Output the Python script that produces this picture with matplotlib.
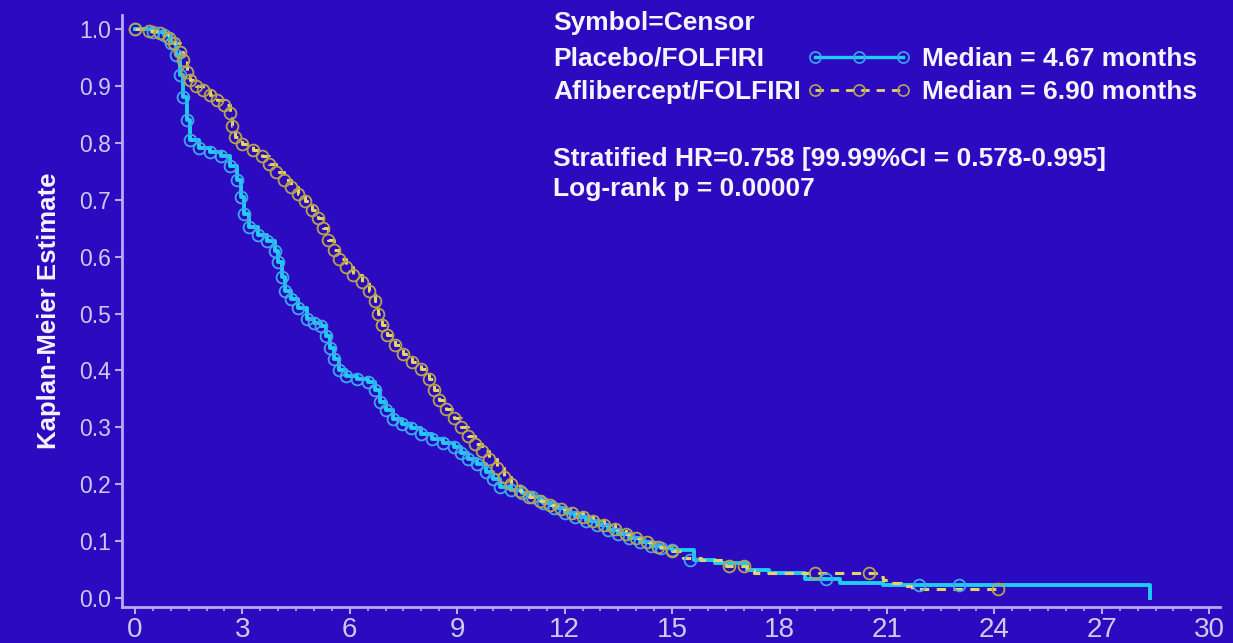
"""Kaplan-Meier curves: Placebo/FOLFIRI vs Aflibercept/FOLFIRI."""
import matplotlib

matplotlib.use("Agg")
import matplotlib.pyplot as plt
import numpy as np
from matplotlib.lines import Line2D
from matplotlib.ticker import MultipleLocator

# --- data (months, survival estimate) ---
placebo_t = [0.0, 0.5, 0.8, 1.0, 1.15, 1.25, 1.35, 1.45, 1.55, 1.8, 2.1, 2.4, 2.65,
             2.85, 2.95, 3.05, 3.2, 3.45, 3.7, 3.9, 4.0, 4.1, 4.2, 4.35, 4.55, 4.8,
             5.0, 5.2, 5.35, 5.45, 5.55, 5.7, 5.9, 6.2, 6.5, 6.7, 6.85, 7.0, 7.2,
             7.45, 7.7, 8.0, 8.3, 8.6, 8.9, 9.1, 9.3, 9.55, 9.8, 10.0, 10.2, 10.5,
             10.8, 11.1, 11.4, 11.7, 12.0, 12.3, 12.6, 12.9, 13.2, 13.5, 13.8, 14.1,
             14.4, 14.7, 15.0, 15.6, 16.2, 17.1, 17.7, 18.7, 19.7, 20.9, 28.35]
placebo_s = [1.0, 0.995, 0.99, 0.975, 0.955, 0.92, 0.88, 0.84, 0.805, 0.79, 0.783,
             0.776, 0.76, 0.735, 0.705, 0.675, 0.652, 0.638, 0.628, 0.61, 0.59,
             0.565, 0.54, 0.525, 0.51, 0.49, 0.484, 0.478, 0.46, 0.44, 0.42, 0.40,
             0.39, 0.385, 0.38, 0.365, 0.345, 0.33, 0.315, 0.305, 0.298, 0.288,
             0.28, 0.272, 0.265, 0.255, 0.245, 0.235, 0.222, 0.21, 0.195, 0.19,
             0.185, 0.177, 0.167, 0.158, 0.15, 0.143, 0.135, 0.128, 0.12, 0.113,
             0.105, 0.098, 0.092, 0.088, 0.085, 0.067, 0.062, 0.05, 0.044, 0.033,
             0.027, 0.023, 0.0]

aflib_t = [0.0, 0.4, 0.7, 0.95, 1.1, 1.25, 1.35, 1.45, 1.55, 1.7, 1.9, 2.1, 2.3, 2.5,
           2.65, 2.72, 2.8, 3.0, 3.3, 3.55, 3.75, 3.95, 4.15, 4.35, 4.55, 4.75, 4.95,
           5.1, 5.25, 5.4, 5.55, 5.7, 5.9, 6.1, 6.35, 6.55, 6.7, 6.8, 6.9, 7.05, 7.25,
           7.5, 7.75, 8.0, 8.2, 8.35, 8.5, 8.7, 8.9, 9.1, 9.3, 9.5, 9.7, 9.9, 10.1,
           10.3, 10.5, 10.75, 11.0, 11.3, 11.6, 11.9, 12.2, 12.5, 12.8, 13.1, 13.4,
           13.7, 14.0, 14.3, 14.6, 15.0, 15.3, 15.8, 16.5, 17.1, 17.3, 20.7, 20.9,
           21.1, 21.4, 21.7, 24.1]
aflib_s = [1.0, 0.997, 0.993, 0.985, 0.975, 0.96, 0.945, 0.925, 0.91, 0.9, 0.892,
           0.884, 0.876, 0.866, 0.852, 0.83, 0.81, 0.798, 0.788, 0.776, 0.762, 0.748,
           0.735, 0.722, 0.71, 0.698, 0.682, 0.668, 0.65, 0.63, 0.612, 0.596, 0.582,
           0.568, 0.555, 0.54, 0.522, 0.5, 0.48, 0.462, 0.445, 0.428, 0.415, 0.402,
           0.385, 0.365, 0.348, 0.332, 0.316, 0.3, 0.284, 0.27, 0.258, 0.245, 0.228,
           0.213, 0.2, 0.188, 0.178, 0.17, 0.163, 0.157, 0.15, 0.143, 0.136, 0.128,
           0.121, 0.113, 0.105, 0.099, 0.09, 0.082, 0.07, 0.067, 0.056, 0.05, 0.044,
           0.037, 0.032, 0.026, 0.021, 0.016, 0.016]

# censor marks in the sparse tail
placebo_tail_cens_t = [15.5, 19.3, 21.9, 23.0]
placebo_tail_cens_s = [0.067, 0.033, 0.023, 0.023]
aflib_tail_cens_t = [16.6, 17.0, 19.0, 20.5, 24.1]
aflib_tail_cens_s = [0.056, 0.056, 0.044, 0.044, 0.016]

x_ticks = list(range(0, 31, 3))
y_ticks = [round(v * 0.1, 1) for v in range(11)]

BG = "#2C0ABF"
AXIS_COL = "#B4ACF2"
TICK_TXT = "#CCCCEA"
TXT = "#F4F4FF"
PLACEBO_LINE = "#1FCCF2"
PLACEBO_MARK = "#3FA6F0"
AFLIB_LINE = "#E4D468"
AFLIB_MARK = "#B4A452"

W, H = 1233, 643


def fx(px):
    return px / W


def fy(py):
    return 1 - py / H


def draw_arm(ax, t, s, tail_t, tail_s, line_col, mark_col, ls, lw):
    t = np.asarray(t)
    s = np.asarray(s)
    ax.plot(t, s, drawstyle="steps-post", color=line_col, lw=lw, ls=ls, zorder=3)
    dense = t <= 15.0
    ax.plot(t[dense], s[dense], ls="none", marker="o", ms=8.5, mfc="none",
            mec=mark_col, mew=1.3, zorder=4)
    ax.plot(tail_t, tail_s, ls="none", marker="o", ms=8.5, mfc="none",
            mec=mark_col, mew=1.3, zorder=4)


def main():
    plt.rcParams["font.family"] = ["Liberation Sans", "DejaVu Sans"]
    fig = plt.figure(figsize=(W / 100, H / 100), dpi=100, facecolor=BG)
    ax = fig.add_axes([fx(122), fy(607), fx(1220) - fx(122), fy(15) - fy(607)])
    ax.set_facecolor(BG)

    draw_arm(ax, placebo_t, placebo_s, placebo_tail_cens_t, placebo_tail_cens_s,
             PLACEBO_LINE, PLACEBO_MARK, "-", 2.8)
    draw_arm(ax, aflib_t, aflib_s, aflib_tail_cens_t, aflib_tail_cens_s,
             AFLIB_LINE, AFLIB_MARK, (0, (3, 2.5)), 2.2)

    ax.set_xlim(-0.36, 30.3)
    ax.set_ylim(-0.0158, 1.0246)
    ax.set_xticks(x_ticks)
    ax.xaxis.set_minor_locator(MultipleLocator(0.5))
    ax.set_yticks(y_ticks)
    ax.set_yticklabels([f"{v:.1f}" for v in y_ticks])

    for side in ("top", "right"):
        ax.spines[side].set_visible(False)
    for side in ("left", "bottom"):
        ax.spines[side].set_color(AXIS_COL)
        ax.spines[side].set_linewidth(2)
    ax.tick_params(axis="both", which="major", color=AXIS_COL, length=5, width=1.5,
                   labelcolor=TICK_TXT)
    ax.tick_params(axis="x", which="minor", color=AXIS_COL, length=3, width=1.2)
    ax.tick_params(axis="y", labelsize=16.5, pad=3)
    ax.tick_params(axis="x", labelsize=20, pad=2)

    ax.set_ylabel("Kaplan-Meier Estimate", fontsize=18.5, fontweight="bold", color=TXT,
                  labelpad=13)

    # legend / annotation block
    tk = dict(fontsize=19, fontweight="bold", color=TXT, ha="left", va="baseline")
    fig.text(fx(553), fy(30), "Symbol=Censor", **tk)
    fig.text(fx(553), fy(66), "Placebo/FOLFIRI", **tk)
    fig.text(fx(553), fy(99), "Aflibercept/FOLFIRI", **tk)
    fig.text(fx(922), fy(66), "Median = 4.67 months", **tk)
    fig.text(fx(922), fy(99), "Median = 6.90 months", **tk)
    fig.text(fx(553), fy(166), "Stratified HR=0.758 [99.99%CI = 0.578-0.995]", **tk)
    fig.text(fx(553), fy(196), "Log-rank p = 0.00007", **tk)

    sample_x = [fx(815), fx(859), fx(903)]
    fig.add_artist(Line2D(sample_x, [fy(57)] * 3, transform=fig.transFigure,
                          color=PLACEBO_LINE, lw=2.4, marker="o", ms=8, mfc="none",
                          mec=PLACEBO_MARK, mew=1.2))
    fig.add_artist(Line2D(sample_x, [fy(90)] * 3, transform=fig.transFigure,
                          color=AFLIB_LINE, lw=2.0, ls=(0, (3, 2.5)), marker="o",
                          ms=8, mfc="none", mec=AFLIB_MARK, mew=1.2))

    fig.savefig("out.png", dpi=100, facecolor=BG)


if __name__ == "__main__":
    main()
